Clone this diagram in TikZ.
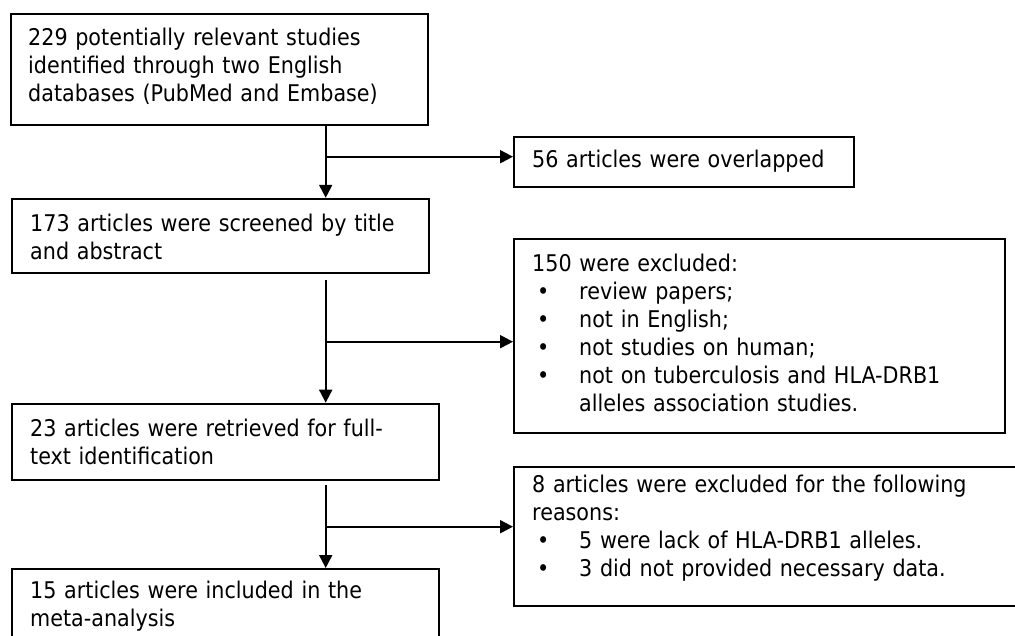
\documentclass[tikz,border=0pt]{standalone}
\usepackage{fontspec}
\setmainfont[FakeStretch=0.9]{DejaVu Sans}
\usetikzlibrary{arrows.meta}
\begin{document}
\begin{tikzpicture}[x=1pt,y=-1pt,
  boxshape/.style={draw, line width=2pt, anchor=north west, inner sep=0pt},
  txt/.style={anchor=base west, inner sep=0pt, align=left, text width=480pt,
    font=\fontsize{23}{28}\selectfont},
  conn/.style={line width=2pt, -{Triangle[length=13pt,width=13pt]}},
]
\useasboundingbox (0,0) rectangle (1015,635);
\clip (0,0) rectangle (1015,635);
\fill[white] (0,0) rectangle (1015,635);
% boxes
\node[boxshape, minimum width=417pt, minimum height=111.6pt] (b1) at (10,12.7) {};
\node[boxshape, minimum width=340pt, minimum height=50.2pt] (b56) at (513,135.5) {};
\node[boxshape, minimum width=417pt, minimum height=74pt] (b2) at (11,197.8) {};
\node[boxshape, minimum width=491pt, minimum height=193.7pt] (b150) at (513,238) {};
\node[boxshape, minimum width=427pt, minimum height=76.3pt] (b3) at (11,402.7) {};
\node[boxshape, minimum width=520pt, minimum height=139pt] (b8) at (513,465.5) {};
\node[boxshape, minimum width=427pt, minimum height=100pt] (b4) at (11,568) {};
% texts
\node[txt] (t1) at (28,45.7) {229 potentially relevant studies\\identified through two English\\databases (PubMed and Embase)};
\node[txt] (t56) at (532,167) {56 articles were overlapped};
\node[txt] (t2) at (30,231) {173 articles were screened by title\\and abstract};
\node[txt] (t150) at (532,271) {150 were excluded:\\
\hspace*{5pt}\makebox[42pt][l]{•}review papers;\\
\hspace*{5pt}\makebox[42pt][l]{•}not in English;\\
\hspace*{5pt}\makebox[42pt][l]{•}not studies on human;\\
\hspace*{5pt}\makebox[42pt][l]{•}not on tuberculosis and HLA-DRB1\\
\hspace*{47pt}alleles association studies.};
\node[txt] (t3) at (30,436) {23 articles were retrieved for full-\\text identification};
\node[txt] (t8) at (532,492) {8 articles were excluded for the following\\reasons:\\
\hspace*{5pt}\makebox[42pt][l]{•}5 were lack of HLA-DRB1 alleles.\\
\hspace*{5pt}\makebox[42pt][l]{•}3 did not provided necessary data.};
\node[txt] (t4) at (30,598) {15 articles were included in the\\meta-analysis};
% connectors
\coordinate (col) at (325.7,0);
\coordinate (j1) at (325.7,156.7);
\coordinate (s2) at (325.7,280);
\coordinate (j2) at (325.7,341.7);
\coordinate (s3) at (325.7,485);
\coordinate (j3) at (325.7,526.7);
\draw[conn] (b1.south -| col) -- (b2.north -| col);
\draw[conn] (j1) -- (j1 -| b56.west);
\draw[conn] (s2) -- (b3.north -| col);
\draw[conn] (j2) -- (j2 -| b150.west);
\draw[conn] (s3) -- (b4.north -| col);
\draw[conn] (j3) -- (j3 -| b8.west);
\end{tikzpicture}
\end{document}
